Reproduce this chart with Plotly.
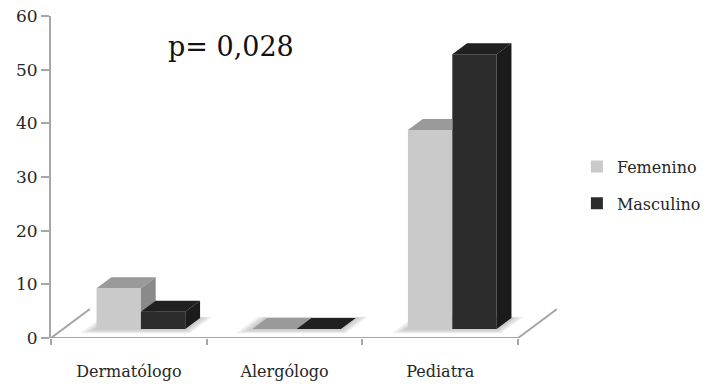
import plotly.graph_objects as go

# ---- data ----
categories = ["Dermatólogo", "Alergólogo", "Pediatra"]
femenino = [7.6, 0, 37.1]
masculino = [3.2, 0, 51.2]
series_names = ["Femenino", "Masculino"]
y_ticks = [0, 10, 20, 30, 40, 50, 60]
p_label = "p= 0,028"

# ---- 3-D look (oblique projection, in axis units) ----
BAR_W = 0.285          # width of one column
DEPTH_X = 0.25         # floor depth projected on x
DEPTH_Y = 5.4          # floor depth projected on y
D0, D1 = 0.31, 0.69    # columns occupy this slice of the floor depth

SHIFT = D0 * DEPTH_X
BASE = D0 * DEPTH_Y
DDX = (D1 - D0) * DEPTH_X
DDY = (D1 - D0) * DEPTH_Y

FONT = "DejaVu Serif"
TEXT = "#262626"
AXIS_GREY = "#a6a6a6"
FEM = dict(front="#cacaca", top="#9a9a9a", side="#8a8a8a")
MAS = dict(front="#2c2c2c", top="#202020", side="#1b1b1b")


def clip_half(poly, k, limit, keep_above):
    """Sutherland-Hodgman clip of a polygon against x (k=0) or y (k=1) = limit."""
    def inside(p):
        return p[k] >= limit - 1e-12 if keep_above else p[k] <= limit + 1e-12
    out = []
    n = len(poly)
    for j in range(n):
        cur, nxt = poly[j], poly[(j + 1) % n]
        if inside(cur):
            out.append(cur)
        if inside(cur) != inside(nxt):
            t = (limit - cur[k]) / (nxt[k] - cur[k])
            out.append((cur[0] + t * (nxt[0] - cur[0]), cur[1] + t * (nxt[1] - cur[1])))
    return out


def area(poly):
    s = 0.0
    for j in range(len(poly)):
        x1, y1 = poly[j]
        x2, y2 = poly[(j + 1) % len(poly)]
        s += x1 * y2 - x2 * y1
    return abs(s) / 2


def add_poly(xs, ys, poly):
    if len(poly) >= 3 and area(poly) > 1e-6:
        for px, py in poly:
            xs.append(px)
            ys.append(py)
        xs.append(poly[0][0])
        ys.append(poly[0][1])
        xs.append(None)
        ys.append(None)


def top_face(xl, xr, h):
    return [(xl, h), (xr, h), (xr + DDX, h + DDY), (xl + DDX, h + DDY)]


def side_face(xr, h):
    return [(xr, BASE), (xr + DDX, BASE + DDY), (xr + DDX, h + DDY), (xr, h)]


fig = go.Figure()

# front faces of the columns
for name, vals, col, off in [
    (series_names[0], femenino, FEM, SHIFT - BAR_W),
    (series_names[1], masculino, MAS, SHIFT),
]:
    fig.add_trace(go.Bar(
        x=list(range(len(categories))), y=vals, base=BASE,
        offset=off, width=BAR_W, name=name,
        marker=dict(color=col["front"], line=dict(width=0)),
        legendgroup=name, hoverinfo="skip",
    ))

# top and side faces; the Femenino faces are trimmed where the
# Masculino column stands in front of them
fem_top = ([], [])
fem_side = ([], [])
mas_top = ([], [])
mas_side = ([], [])
for i, (vf, vm) in enumerate(zip(femenino, masculino)):
    xl = i + SHIFT - BAR_W
    xm = i + SHIFT
    xr = xm + BAR_W
    hf = BASE + vf
    hm = BASE + vm

    tf = top_face(xl, xm, hf)
    add_poly(*fem_top, clip_half(tf, 0, xm, False))
    add_poly(*fem_top, clip_half(clip_half(tf, 0, xm, True), 1, hm, True))
    sf = side_face(xm, hf)
    add_poly(*fem_side, clip_half(sf, 1, hm, True))

    add_poly(*mas_top, top_face(xm, xr, hm))
    add_poly(*mas_side, side_face(xr, hm))

for (xs, ys), color in [(fem_top, FEM["top"]), (fem_side, FEM["side"]),
                        (mas_top, MAS["top"]), (mas_side, MAS["side"])]:
    fig.add_trace(go.Scatter(
        x=xs, y=ys, mode="lines", fill="toself", fillcolor=color,
        line=dict(width=0, color=color), showlegend=False, hoverinfo="skip",
    ))

# floor outline
x0 = -0.5
x1 = len(categories) - 0.5
fig.add_trace(go.Scatter(
    x=[x0, x1, None, x0, x0 + DEPTH_X, None, x1, x1 + DEPTH_X],
    y=[0, 0, None, 0, DEPTH_Y, None, 0, DEPTH_Y],
    mode="lines", line=dict(color=AXIS_GREY, width=2),
    showlegend=False, hoverinfo="skip",
))

# soft shadows of the columns on the floor
shapes = []
for i in range(len(categories)):
    gl = i - BAR_W
    gr = i + BAR_W
    for k in (1, 2, 3):
        ex = 0.022 * k
        ed = 0.05 * k
        da, db = D0 - ed, D1 + ed * 0.3
        pts = [(gl - ex + da * DEPTH_X, da * DEPTH_Y),
               (gr + ex + da * DEPTH_X, da * DEPTH_Y),
               (gr + ex + db * DEPTH_X, db * DEPTH_Y),
               (gl - ex + db * DEPTH_X, db * DEPTH_Y)]
        path = "M " + " L ".join(f"{px},{py}" for px, py in pts) + " Z"
        shapes.append(dict(type="path", path=path, xref="x", yref="y",
                           fillcolor="rgba(0,0,0,0.07)", line=dict(width=0),
                           layer="below"))

fig.update_layout(
    width=707, height=384,
    margin=dict(l=51, r=150, t=16, b=46, autoexpand=False),
    paper_bgcolor="white", plot_bgcolor="white",
    barmode="overlay",
    shapes=shapes,
    font=dict(family=FONT, color=TEXT, size=16),
    xaxis=dict(
        range=[x0, x1 + DEPTH_X], automargin=False,
        tickmode="array", tickvals=list(range(len(categories))), ticktext=categories,
        ticks="", showline=False, showgrid=False, zeroline=False,
        ticklabelstandoff=22,
        tickfont=dict(family=FONT, size=16, color=TEXT),
        minor=dict(tickmode="array",
                   tickvals=[i - 0.5 for i in range(len(categories) + 1)],
                   ticks="outside", ticklen=6, tickwidth=2, tickcolor=AXIS_GREY,
                   showgrid=False),
        fixedrange=True,
    ),
    yaxis=dict(
        range=[0, 60], tickmode="array", tickvals=y_ticks, automargin=False,
        ticks="outside", ticklen=8, tickwidth=2, tickcolor=AXIS_GREY,
        showline=True, linecolor=AXIS_GREY, linewidth=2,
        showgrid=False, zeroline=False,
        tickfont=dict(family=FONT, size=17, color=TEXT),
        fixedrange=True,
    ),
    legend=dict(
        xref="container", yref="container",
        x=0.816, xanchor="left", y=0.518, yanchor="middle",
        font=dict(family=FONT, size=16, color=TEXT),
        tracegroupgap=13, bgcolor="rgba(0,0,0,0)",
    ),
    annotations=[dict(
        text=p_label, xref="paper", yref="paper", x=0.355, y=0.905,
        xanchor="center", yanchor="middle", showarrow=False,
        font=dict(family=FONT, size=27, color="#111111"),
    )],
)

fig.write_html("out.html")
